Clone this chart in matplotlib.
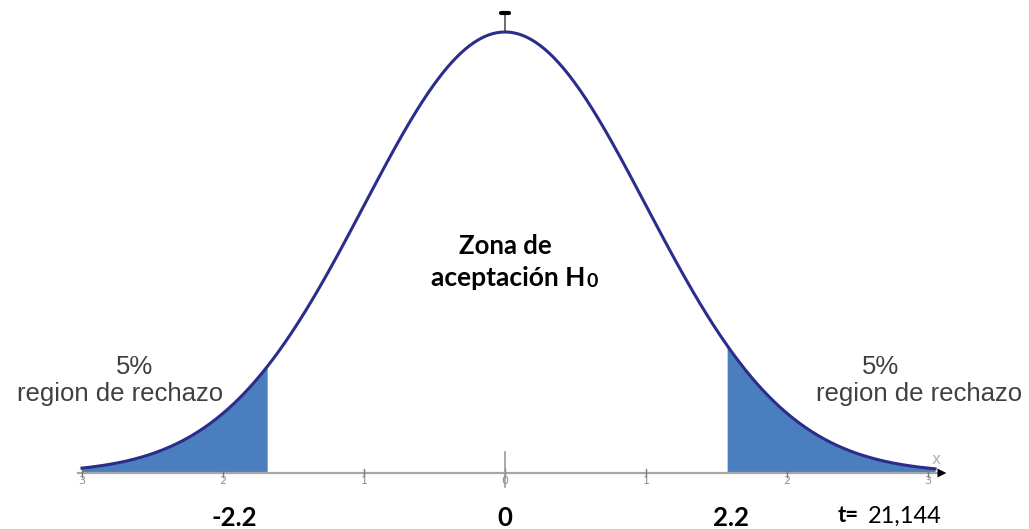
import numpy as np
import matplotlib.pyplot as plt
from matplotlib.patches import Rectangle

# data
z_min, z_max = -3.0, 3.05
crit_left = -1.68
crit_right = 1.57
axis_ticks = [-3, -2, -1, 0, 1, 2, 3]
axis_tick_labels = ['3', '2', '1', '0', '1', '2', '3']
crit_labels = ['-2.2', '0', '2.2']
crit_label_pos = [-1.92, 0.0, 1.6]
t_value = '21,144'
tail_pct = '5%'

def pdf(z):
    return np.exp(-z**2 / 2) / np.sqrt(2 * np.pi)

fig = plt.figure(figsize=(10.29, 5.29), dpi=100)
ax = fig.add_axes([0, 0, 1, 1])
px = 141.0
sy = 441 / pdf(0)
ax.set_xlim(-505 / px, (1029 - 505) / px)
ax.set_ylim((473 - 529) / sy, 473 / sy)
ax.axis('off')

z = np.linspace(z_min, z_max, 600)
zl = z[z <= crit_left]
zr = z[z >= crit_right]
ax.fill_between(zl, 0, pdf(zl), color='#4a7ebf', lw=0)
ax.fill_between(zr, 0, pdf(zr), color='#4a7ebf', lw=0)
ax.plot(z, pdf(z), color='#2b2d8c', lw=2.2, zorder=3)

# horizontal axis with arrow
ax.plot([-3.03, 3.1], [0, 0], color='#a6a6a6', lw=1.6, zorder=2)
ax.annotate('', xy=(3.15, 0), xytext=(3.0, 0),
            arrowprops=dict(arrowstyle='-|>', color='black', lw=0,
                            mutation_scale=16), zorder=4)
ax.text(3.06, 14 / sy, 'x', color='#b0b0b0', fontsize=11, ha='center', va='center')

# tiny ticks and clipped tick labels
clip = Rectangle((-3.6, -10 / sy), 7.4, 18 / sy, transform=ax.transData)
for t, lab in zip(axis_ticks, axis_tick_labels):
    ax.plot([t, t], [-4 / sy, 4 / sy], color='#777777', lw=1)
    tx = ax.text(t, -3 / sy, lab, color='#909090', fontsize=8,
                 ha='center', va='top')
    tx.set_clip_path(clip)
ax.plot([0, 0], [-14 / sy, 21 / sy], color='#9a9a9a', lw=1.2)

# vertical marker at the top
ax.plot([0, 0], [pdf(0), pdf(0) + 19 / sy], color='#555555', lw=1.2)
ax.plot([-0.03, 0.03], [pdf(0) + 19 / sy] * 2, color='black', lw=3,
        solid_capstyle='round')

# texts
ax.text(0, (473 - 246) / sy, 'Zona de', fontsize=18.5, fontweight='bold',
        family='Lato', ha='center', va='center')
ax.text(0.57, (473 - 278) / sy, 'aceptación H', fontsize=19,
        fontweight='bold', family='Lato', ha='right', va='center')
ax.text(0.575, (473 - 273) / sy, '0', fontsize=14,
        fontweight='bold', family='Lato', ha='left', va='top')

for xc, xp in [(-2.73, -2.63), (2.94, 2.66)]:
    ax.text(xp, (473 - 367) / sy, tail_pct, fontsize=18.5, color='#404040',
            family='Liberation Sans', ha='center', va='center')
    ax.text(xc, (473 - 394) / sy, 'region de rechazo', fontsize=18.5,
            color='#404040', family='Liberation Sans', ha='center', va='center')

for xc, lab in zip(crit_label_pos, crit_labels):
    ax.text(xc, (473 - 518) / sy, lab, fontsize=18.5, fontweight='bold',
            family='Lato', ha='center', va='center')
ax.text(2.36, (473 - 516) / sy, 't=', fontsize=16, fontweight='bold',
        family='Lato', ha='left', va='center')
ax.text(2.574, (473 - 516) / sy, t_value, fontsize=17,
        family='Lato', ha='left', va='center')

fig.savefig('out.png', dpi=100)
